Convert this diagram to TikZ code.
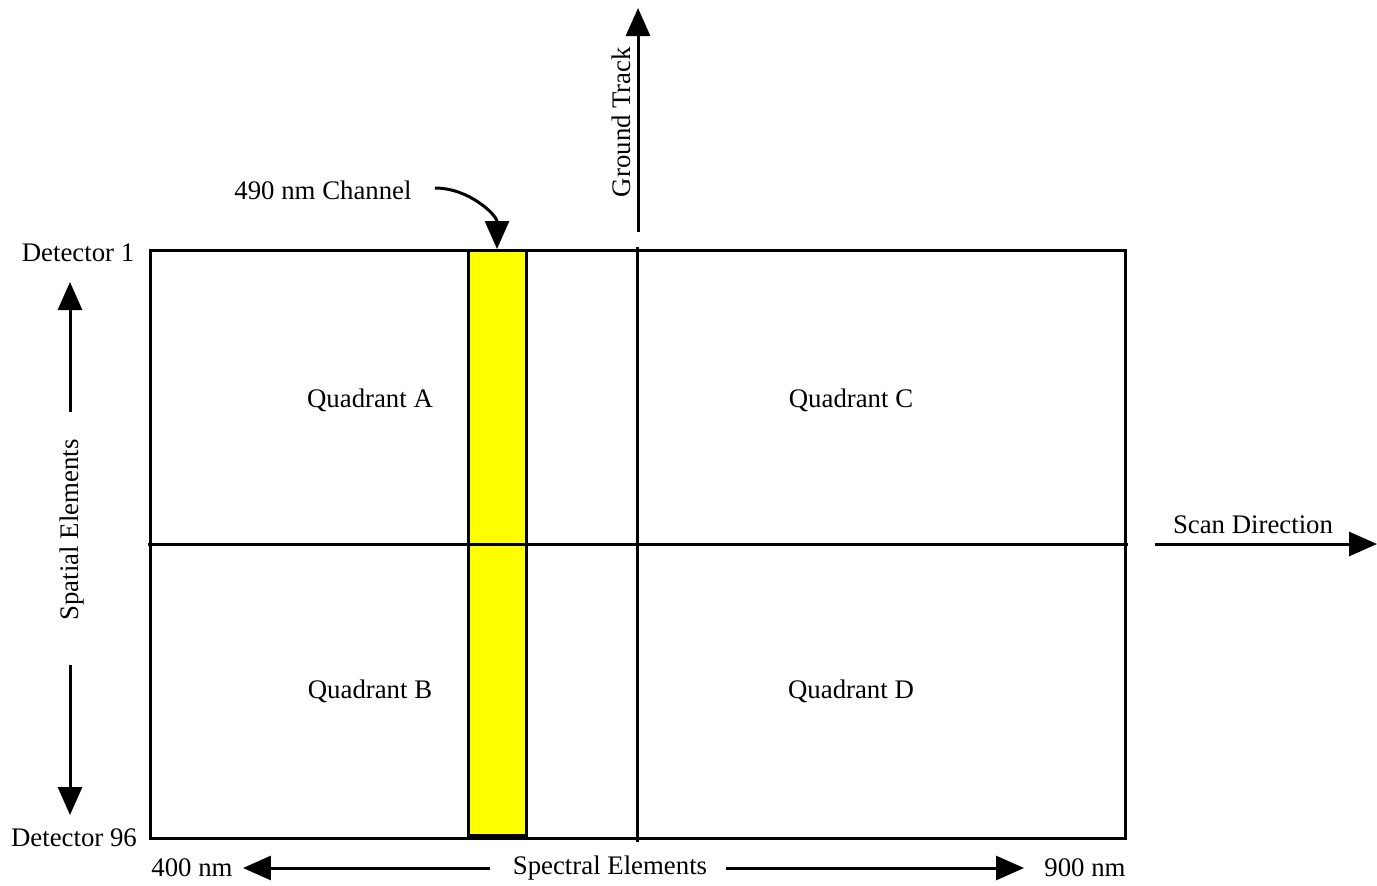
\documentclass[tikz,border=0pt]{standalone}
\usepackage{fontspec}
\setmainfont{Liberation Serif}
\usepackage{tikz}
\usetikzlibrary{arrows.meta}
\definecolor{chanyellow}{RGB}{255, 255, 0}
\definecolor{lineblack}{RGB}{0, 0, 0}
\tikzset{
  lbl/.style={font=\fontsize{13.4}{16}\selectfont, inner sep=0pt},
  bigarrow/.style={-{Triangle[length=14pt,width=12pt]}, line width=1.5pt, lineblack},
  frame/.style={line width=1.5pt, lineblack}
}

\begin{document}
\begin{tikzpicture}[x=0.5pt, y=-0.5pt]
    \useasboundingbox (0,0) rectangle (1377,885);

    %% detector array and 490 nm channel
    \filldraw[frame, fill=chanyellow] (468,250) rectangle (526,835);
    \draw[frame] (150,250) rectangle (1125,838);
    \draw[frame] (148,544) -- (1128,544);
    \draw[frame] (637,247) -- (637,842);

    %% quadrants
    \node[lbl] (quadA) at (370,400) {Quadrant A};
    \node[lbl] (quadC) at (851,400) {Quadrant C};
    \node[lbl] (quadB) at (370,691) {Quadrant B};
    \node[lbl] (quadD) at (851,691) {Quadrant D};

    %% ground track
    \coordinate (gtBase) at (638,232);
    \coordinate (gtTip) at (638,8);
    \draw[bigarrow] (gtBase) -- (gtTip);
    \node[lbl, rotate=90] (groundTrack) at (621,122) {Ground Track};

    %% channel callout
    \node[lbl] (chanLbl) at (323,190) {490 nm Channel};
    \coordinate (chanTail) at (435,188);
    \coordinate (chanTip) at (497,249);
    \draw[bigarrow] (chanTail) to[out=0, in=90] (chanTip);

    %% scan direction
    \node[lbl] (scanLbl) at (1253,525) {Scan Direction};
    \coordinate (scanBase) at (1155,544);
    \coordinate (scanTip) at (1377,544);
    \draw[bigarrow] (scanBase) -- (scanTip);

    %% spatial elements
    \node[lbl] (det1) at (78,253) {Detector 1};
    \node[lbl] (det96) at (74,838) {Detector 96};
    \node[lbl, rotate=90] (spatial) at (72,530) {Spatial Elements};
    \coordinate (upBase) at (70,412);
    \coordinate (upTip) at (70,282);
    \coordinate (downBase) at (70,665);
    \coordinate (downTip) at (70,815);
    \draw[bigarrow] (upBase) -- (upTip);
    \draw[bigarrow] (downBase) -- (downTip);

    %% spectral elements
    \node[lbl] (nm400) at (192,868) {400 nm};
    \node[lbl] (spectral) at (610,868) {Spectral Elements};
    \node[lbl] (nm900) at (1085,868) {900 nm};
    \draw[bigarrow] ([xshift=-11pt]spectral.west) -- ([xshift=5pt]nm400.east);
    \draw[bigarrow] ([xshift=9pt]spectral.east) -- ([xshift=-10pt]nm900.west);
  \end{tikzpicture}
\end{document}
